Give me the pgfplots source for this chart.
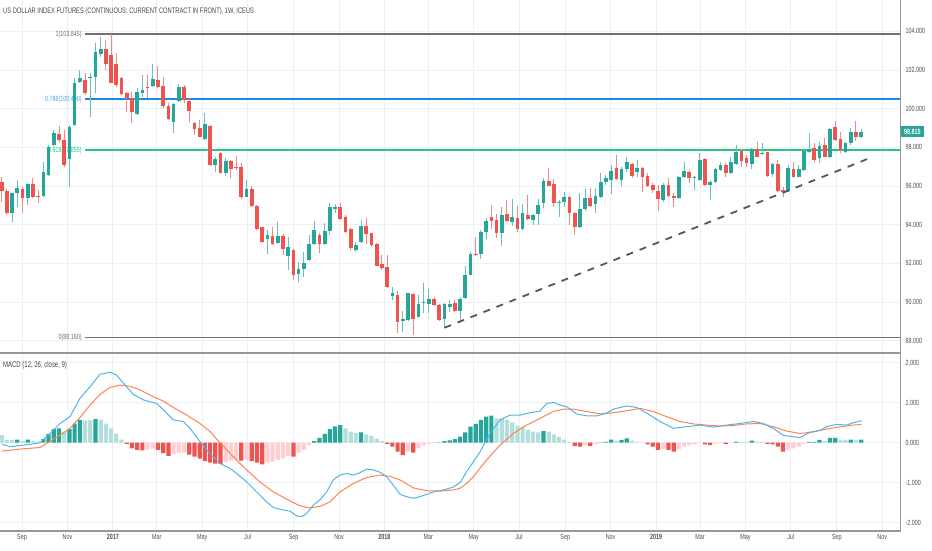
\documentclass[border=0pt]{standalone}
\usepackage{fontspec}
\setmainfont{Liberation Sans}[FakeStretch=0.72]
\usepackage{pgfplots}
\usepackage{pgfplotstable}
\pgfplotsset{compat=1.18}
\definecolor{candG}{RGB}{38,166,154}
\definecolor{candR}{RGB}{239,83,80}
\colorlet{wickG}{candG!70!white}
\colorlet{wickR}{candR!70!white}
\definecolor{histD}{RGB}{38,166,154}
\definecolor{histL}{RGB}{178,223,219}
\definecolor{histR}{RGB}{239,83,80}
\definecolor{histP}{RGB}{255,205,210}
\definecolor{macdc}{RGB}{80,180,230}
\definecolor{sigc}{RGB}{255,130,80}
\definecolor{gridc}{RGB}{236,240,245}
\definecolor{labc}{RGB}{75,78,88}
\definecolor{titc}{RGB}{70,72,80}
\definecolor{sepc}{RGB}{150,150,155}
\definecolor{fibgray}{RGB}{112,112,118}
\definecolor{fibblue}{RGB}{30,136,229}
\definecolor{fibgreen}{RGB}{40,196,130}
\definecolor{trendc}{RGB}{85,85,90}

\pgfplotstableread{
k O H L C
0 96.22 96.48 95.19 95.74
1 95.74 95.83 94.50 94.59
2 94.62 95.65 94.15 95.62
3 95.62 96.31 94.93 95.88
4 95.83 95.96 94.59 95.36
5 95.36 96.14 95.02 96.10
6 96.10 96.40 95.36 95.44
7 95.50 95.79 95.10 95.44
8 95.50 97.26 95.44 96.71
9 96.57 98.12 96.53 98.03
10 98.12 98.90 98.07 98.76
11 98.69 99.10 98.29 98.38
12 98.38 98.90 97.00 97.09
13 97.38 99.15 95.96 99.07
14 99.15 101.57 99.12 101.31
15 101.39 102.00 101.31 101.57
16 101.48 101.86 100.71 100.79
17 101.57 101.83 99.55 101.65
18 101.65 103.38 100.79 102.95
19 102.83 103.72 102.69 103.07
20 103.09 103.55 102.00 102.29
21 102.77 103.845 101.31 101.34
22 102.29 102.86 101.14 101.22
23 101.60 101.65 100.71 100.74
24 100.79 100.88 99.84 100.54
25 100.54 100.88 99.24 99.84
26 99.72 101.05 99.67 100.85
27 100.82 101.74 100.62 100.96
28 101.10 101.74 100.54 101.07
29 101.17 102.29 101.10 101.53
30 101.48 102.21 101.05 101.10
31 101.17 101.65 100.02 100.14
32 100.15 100.28 99.41 99.46
33 99.32 100.31 98.74 100.24
34 100.41 101.26 100.36 101.13
35 101.13 101.22 100.28 100.45
36 100.41 100.54 99.32 99.89
37 99.26 99.32 98.64 98.95
38 98.98 99.41 98.52 98.55
39 98.43 99.79 98.38 99.21
40 99.10 99.15 97.05 97.07
41 97.07 97.51 96.74 97.39
42 97.69 97.74 96.65 96.69
43 96.69 97.43 96.52 97.31
44 97.31 97.34 96.40 96.89
45 96.99 97.55 96.83 96.96
46 96.98 97.17 95.31 95.44
47 95.44 96.31 95.41 95.84
48 95.84 96.00 94.93 94.96
49 94.96 95.01 93.72 93.76
50 93.86 93.89 93.06 93.12
51 93.26 93.72 92.48 93.46
52 93.43 93.86 92.95 93.00
53 93.05 94.12 93.00 93.43
54 93.43 93.52 92.43 92.74
55 92.38 93.38 91.65 92.83
56 92.69 92.72 91.14 91.39
57 91.45 92.07 91.03 91.70
58 91.70 92.60 91.31 92.03
59 92.17 93.46 92.13 93.00
60 93.00 94.20 92.95 93.72
61 93.46 93.58 92.53 93.00
62 93.00 94.10 92.95 93.67
63 93.69 95.12 93.46 94.90
64 94.81 95.07 94.62 94.93
65 94.90 95.12 94.24 94.29
66 94.41 94.50 93.58 93.63
67 93.77 93.81 92.69 92.78
68 92.69 93.12 92.60 92.95
69 93.09 94.24 93.03 93.93
70 93.93 94.33 93.00 93.52
71 93.55 93.58 92.86 92.95
72 92.98 93.03 91.86 91.87
73 91.96 92.43 91.65 91.74
74 91.82 92.43 90.71 90.79
75 90.32 90.79 90.10 90.45
76 90.36 90.58 88.38 88.95
77 89.01 89.55 88.46 89.12
78 89.07 90.48 89.03 90.45
79 90.40 90.45 88.29 89.10
80 89.24 90.36 89.21 89.89
81 89.97 90.96 89.41 90.00
82 89.89 90.65 89.41 90.14
83 90.14 90.27 89.79 89.84
84 89.84 89.89 89.03 89.07
85 89.12 89.93 88.64 89.89
86 89.75 90.10 89.49 89.89
87 89.93 90.10 89.49 89.55
88 89.55 90.27 89.03 90.14
89 90.19 91.88 90.15 91.39
90 91.39 92.58 91.39 92.47
91 92.47 93.34 92.38 92.43
92 92.47 93.72 92.21 93.60
93 93.63 94.33 93.26 94.20
94 94.38 95.02 93.76 94.20
95 94.24 94.55 93.29 93.58
96 93.55 94.93 92.89 94.50
97 94.55 95.27 94.15 94.20
98 94.15 95.31 93.93 94.41
99 94.36 94.96 93.63 93.77
100 93.77 95.07 93.72 94.59
101 94.50 95.53 94.24 94.27
102 94.24 94.55 93.98 94.50
103 94.53 95.31 93.98 95.01
104 95.10 96.40 94.84 96.27
105 96.27 96.91 96.00 96.01
106 96.10 96.34 94.93 95.13
107 95.12 95.27 94.41 95.15
108 95.15 95.70 94.93 95.41
109 95.41 95.48 93.98 94.58
110 94.62 94.67 93.46 93.86
111 93.86 95.62 93.81 94.79
112 94.79 95.83 94.72 95.36
113 95.36 95.88 94.93 94.96
114 95.07 95.88 94.62 95.50
115 95.44 96.65 95.36 96.19
116 96.22 96.57 96.05 96.40
117 96.31 97.08 95.57 96.79
118 96.91 97.60 96.31 96.36
119 96.31 96.99 96.00 96.86
120 96.86 97.51 96.74 97.26
121 97.12 97.20 96.40 96.52
122 96.74 97.34 96.48 96.95
123 96.95 97.00 95.70 96.48
124 96.52 96.69 95.93 96.00
125 96.03 96.14 95.65 95.79
126 95.75 96.05 94.72 95.31
127 95.27 96.14 95.19 96.05
128 96.05 96.40 95.44 95.50
129 95.50 95.62 94.93 95.36
130 95.36 96.50 95.34 96.48
131 96.48 97.26 96.40 96.79
132 96.71 96.83 96.17 96.40
133 96.43 96.51 95.79 96.48
134 96.31 97.69 96.27 97.34
135 97.39 97.43 96.01 96.05
136 96.05 96.31 95.27 96.22
137 96.19 96.91 96.14 96.88
138 96.83 97.22 96.79 97.08
139 97.08 97.17 96.45 96.65
140 96.65 97.51 96.60 97.22
141 97.12 98.12 97.08 97.77
142 97.81 97.91 96.96 97.29
143 97.43 97.60 96.99 97.17
144 97.14 97.95 96.88 97.90
145 97.90 98.29 97.48 97.51
146 97.64 98.21 97.60 97.72
147 97.74 97.77 96.48 96.53
148 96.62 97.17 96.48 97.12
149 97.12 97.34 95.70 95.75
150 95.79 95.96 95.44 95.70
151 95.75 97.08 95.70 96.94
152 96.88 97.26 96.40 96.45
153 96.48 97.08 96.45 96.86
154 96.83 97.86 96.79 97.81
155 97.77 98.72 97.69 97.90
156 97.95 98.21 97.26 97.34
157 97.43 98.29 97.17 98.07
158 98.12 98.46 97.48 97.51
159 97.51 98.98 97.43 98.93
160 99.07 99.36 98.34 98.38
161 98.43 98.81 97.69 97.86
162 97.77 98.26 97.72 98.21
163 98.21 98.98 98.12 98.81
164 98.81 99.36 98.34 98.52
165 98.55 98.93 98.46 98.815
}\candles

\pgfplotstableread{
k v c
0 0.19 1
1 0.07 1
2 0.07 1
3 0.08 0
4 0.04 1
5 0.08 0
6 0.04 1
7 0.03 1
8 0.09 0
9 0.22 0
10 0.34 0
11 0.36 0
12 0.28 1
13 0.34 0
14 0.48 0
15 0.57 0
16 0.56 1
17 0.56 1
18 0.59 0
19 0.58 1
20 0.48 1
21 0.36 1
22 0.23 1
23 0.08 1
24 -0.03 2
25 -0.14 2
26 -0.18 2
27 -0.19 2
28 -0.17 3
29 -0.15 3
30 -0.18 2
31 -0.26 2
32 -0.33 2
33 -0.28 3
34 -0.26 3
35 -0.25 3
36 -0.30 2
37 -0.35 2
38 -0.40 2
39 -0.46 2
40 -0.50 2
41 -0.52 2
42 -0.53 2
43 -0.48 3
44 -0.45 3
45 -0.42 3
46 -0.45 2
47 -0.43 3
48 -0.46 2
49 -0.50 2
50 -0.54 2
51 -0.50 3
52 -0.47 3
53 -0.43 3
54 -0.39 3
55 -0.33 3
56 -0.35 2
57 -0.25 3
58 -0.18 3
59 -0.06 3
60 0.04 0
61 0.12 0
62 0.22 0
63 0.34 0
64 0.41 0
65 0.44 0
66 0.36 1
67 0.28 1
68 0.24 1
69 0.26 0
70 0.21 1
71 0.17 1
72 0.10 1
73 0.04 1
74 -0.03 2
75 -0.10 2
76 -0.22 2
77 -0.31 2
78 -0.22 3
79 -0.25 2
80 -0.14 3
81 -0.07 3
82 -0.02 3
83 0.005 0
84 0.01 0
85 0.04 0
86 0.06 0
87 0.09 0
88 0.15 0
89 0.26 0
90 0.40 0
91 0.47 0
92 0.57 0
93 0.65 0
94 0.68 0
95 0.61 1
96 0.61 1
97 0.57 1
98 0.51 1
99 0.42 1
100 0.40 1
101 0.32 1
102 0.28 1
103 0.26 1
104 0.29 0
105 0.28 1
106 0.21 1
107 0.15 1
108 0.08 1
109 0.02 1
110 -0.08 2
111 -0.10 2
112 -0.06 3
113 -0.08 2
114 -0.04 3
115 0.01 0
116 0.02 0
117 0.08 0
118 0.05 1
119 0.07 0
120 0.11 0
121 0.05 1
122 0.02 1
123 0.01 1
124 -0.04 2
125 -0.10 2
126 -0.18 2
127 -0.16 3
128 -0.18 2
129 -0.22 2
130 -0.16 3
131 -0.10 3
132 -0.06 3
133 -0.04 3
134 -0.01 3
135 -0.04 2
136 -0.06 2
137 -0.02 3
138 -0.01 3
139 -0.03 2
140 -0.01 3
141 0.03 0
142 0.02 1
143 0.02 1
144 0.05 0
145 0.03 1
146 0.03 1
147 -0.03 2
148 -0.04 2
149 -0.10 2
150 -0.22 2
151 -0.17 3
152 -0.14 3
153 -0.10 3
154 -0.03 3
155 0.02 0
156 0.02 0
157 0.07 0
158 0.04 1
159 0.12 0
160 0.12 0
161 0.08 1
162 0.07 1
163 0.08 0
164 0.08 1
165 0.08 0
}\hist

\pgfplotsset{
  panel/.style={scale only axis, width=900pt, xmin=-0.33, xmax=172.45,
    axis line style={draw=none}, major tick length=0pt,
    grid=major, major grid style={draw=gridc, line width=0.8pt},
    xtick={3.90,12.62,21.33,29.76,38.47,47.19,56.04,64.76,73.47,81.90,90.62,99.33,108.19,116.90,125.62,134.04,142.76,151.47,160.33,169.04},
    yticklabel pos=right,
    tick label style={font=\fontsize{7.5}{8}\selectfont, text=labc},
    scaled y ticks=false,
    yticklabel style={xshift=2pt, /pgf/number format/fixed, /pgf/number format/fixed zerofill, /pgf/number format/precision=3, /pgf/number format/assume math mode=true},
  },
  wick/.style={draw=none, mark=none, /pgfplots/error bars/y dir=minus, /pgfplots/error bars/y explicit, /pgfplots/error bars/error mark=none,
    /pgfplots/error bars/error bar style={line width=1pt, draw=#1}},
  body/.style={draw=none, mark=none, /pgfplots/error bars/y dir=minus, /pgfplots/error bars/y explicit, /pgfplots/error bars/error mark=none,
    /pgfplots/error bars/error bar style={line width=3.7pt, draw=#1}},
}

\begin{document}
\begin{tikzpicture}[x=1pt,y=1pt]
\useasboundingbox (0,0) rectangle (932,550);

\begin{axis}[panel, at={(0pt,198pt)}, anchor=south west, height=352pt,
  ymin=87.41, ymax=105.62, ytick={88,90,...,104}, xticklabels={}]
% Fibonacci labels and levels
\node[anchor=east, font=\fontsize{7.5}{8}\selectfont, text=fibgray, inner sep=1pt] at (axis cs:15.6,103.845) {1(103.845)};
\node[anchor=east, font=\fontsize{7.5}{8}\selectfont, text=fibblue!80!white, inner sep=1pt] at (axis cs:15.6,100.49) {0.786(100.490)};
\node[anchor=east, font=\fontsize{7.5}{8}\selectfont, text=fibgreen, inner sep=1pt] at (axis cs:15.6,97.855) {0.618(97.855)};
\node[anchor=east, font=\fontsize{7.5}{8}\selectfont, text=fibgray, inner sep=1pt] at (axis cs:15.6,88.16) {0(88.160)};
\addplot[fibgray, line width=1.8pt] coordinates {(16,103.845) (172.45,103.845)};
\addplot[fibblue, line width=1.8pt] coordinates {(16,100.49) (172.45,100.49)};
\addplot[fibgreen, line width=1.8pt] coordinates {(16,97.855) (172.45,97.855)};
\addplot[fibgray, line width=1.8pt] coordinates {(16,88.16) (172.45,88.16)};
% wicks
\addplot[restrict expr to domain={\thisrow{C}-\thisrow{O}}{0:100}, wick=wickG]
  table[x=k, y=H, y error minus expr=\thisrow{H}-\thisrow{L}] {\candles};
\addplot[restrict expr to domain={\thisrow{C}-\thisrow{O}}{-100:0}, wick=wickR]
  table[x=k, y=H, y error minus expr=\thisrow{H}-\thisrow{L}] {\candles};
% bodies
\addplot[restrict expr to domain={\thisrow{C}-\thisrow{O}}{0:100}, body=candG]
  table[x=k, y=C, y error minus expr=\thisrow{C}-\thisrow{O}] {\candles};
\addplot[restrict expr to domain={\thisrow{C}-\thisrow{O}}{-100:0}, body=candR]
  table[x=k, y=O, y error minus expr=\thisrow{O}-\thisrow{C}] {\candles};
% trend line
\addplot[trendc, line width=1.8pt, dash pattern=on 7pt off 7pt] coordinates {(85,88.667) (167.3,97.513)};
\end{axis}

\begin{axis}[panel, at={(0pt,19pt)}, anchor=south west, height=177pt,
  ymin=-2.2075, ymax=2.2175, ytick={-2,-1,0,1,2},
  xticklabels={Sep,Nov,\textbf{2017},Mar,May,Jul,Sep,Nov,\textbf{2018},Mar,May,Jul,Sep,Nov,\textbf{2019},Mar,May,Jul,Sep,Nov}]
\addplot[ybar, bar width=4.2pt, bar shift=0pt, fill=histD, draw=none, restrict expr to domain={\thisrow{c}}{-0.5:0.5}] table[x=k,y=v] {\hist};
\addplot[ybar, bar width=4.2pt, bar shift=0pt, fill=histL, draw=none, restrict expr to domain={\thisrow{c}}{0.5:1.5}] table[x=k,y=v] {\hist};
\addplot[ybar, bar width=4.2pt, bar shift=0pt, fill=histR, draw=none, restrict expr to domain={\thisrow{c}}{1.5:2.5}] table[x=k,y=v] {\hist};
\addplot[ybar, bar width=4.2pt, bar shift=0pt, fill=histP, draw=none, restrict expr to domain={\thisrow{c}}{2.5:3.5}] table[x=k,y=v] {\hist};
% signal line
\addplot[sigc, line width=1pt, mark=none] coordinates {
(0,-0.21) (3.51,-0.16) (7.35,-0.12) (9.27,0.03) (11.19,0.19) (13.11,0.36) (15.03,0.63) (16.95,0.94) (18.87,1.21) (20.79,1.38) (22.71,1.44) (24.63,1.41) (26.55,1.32) (29.11,1.15) (31.03,1.04) (32.95,0.88) (35.5,0.69) (38.06,0.48) (39.98,0.28) (41.9,0.0) (44.46,-0.35) (47.02,-0.68) (49.58,-0.98) (52.14,-1.23) (54.7,-1.41) (57.26,-1.58) (59.18,-1.63) (61.1,-1.59) (63.02,-1.48) (64.94,-1.23) (67.5,-1.02) (70.06,-0.87) (72.62,-0.81) (74.54,-0.84) (76.46,-0.93) (79.02,-1.13) (81.58,-1.20) (84.14,-1.21) (86.7,-1.18) (88.0,-1.14) (89.26,-1.02) (90.54,-0.85) (93.10,-0.43) (95.66,-0.06) (98.22,0.23) (100.78,0.44) (103.34,0.61) (105.9,0.78) (107.82,0.84) (109.74,0.84) (112.3,0.78) (114.86,0.72) (117.42,0.75) (119.98,0.80) (122.54,0.86) (125.1,0.78) (127.65,0.65) (130.21,0.53) (132.77,0.47) (135.33,0.44) (137.89,0.42) (140.45,0.43) (143.01,0.47) (145.57,0.48) (148.13,0.40) (150.69,0.29) (153.25,0.23) (155.81,0.27) (158.37,0.34) (160.93,0.40) (163.49,0.44) (165.09,0.46)};
% MACD line
\addplot[macdc, line width=1pt, mark=none] coordinates {
(0,-0.03) (1.59,-0.10) (3.51,-0.07) (5.43,-0.04) (7.35,0.0) (9.27,0.23) (11.19,0.48) (13.11,0.65) (15.03,1.11) (16.95,1.40) (18.87,1.71) (20.79,1.76) (22.07,1.69) (23.35,1.49) (25.27,1.21) (27.19,1.07) (29.75,0.98) (31.03,0.82) (32.95,0.57) (34.87,0.53) (36.14,0.36) (38.06,0.03) (39.98,-0.27) (41.9,-0.52) (43.82,-0.64) (45.1,-0.77) (47.02,-0.98) (48.94,-1.23) (50.86,-1.48) (52.14,-1.62) (54.06,-1.68) (55.34,-1.71) (56.62,-1.83) (57.58,-1.85) (58.54,-1.77) (59.82,-1.56) (61.1,-1.43) (62.38,-1.23) (63.66,-0.93) (64.94,-0.81) (66.22,-0.77) (67.5,-0.81) (68.78,-0.75) (70.06,-0.66) (71.34,-0.68) (72.62,-0.74) (73.9,-0.85) (75.18,-1.06) (76.46,-1.29) (77.74,-1.35) (79.02,-1.39) (80.3,-1.35) (81.58,-1.29) (82.86,-1.23) (84.78,-1.18) (86.7,-1.11) (88.1,-0.98) (89.26,-0.72) (89.9,-0.60) (91.82,-0.23) (93.74,0.23) (95.66,0.57) (97.58,0.69) (99.5,0.69) (101.42,0.75) (103.34,0.79) (104.62,0.98) (105.9,1.01) (107.18,0.94) (108.46,0.90) (110.38,0.72) (112.3,0.67) (114.22,0.67) (116.14,0.74) (117.42,0.84) (119.34,0.90) (119.98,0.92) (121.9,0.88) (123.82,0.74) (126.38,0.53) (128.94,0.36) (131.5,0.40) (134.05,0.44) (136.61,0.39) (139.17,0.44) (141.73,0.48) (144.29,0.53) (146.21,0.48) (148.13,0.36) (150.05,0.18) (151.97,0.15) (153.25,0.13) (155.17,0.26) (157.09,0.31) (158.37,0.40) (160.29,0.46) (162.21,0.44) (163.49,0.50) (165.09,0.55)};
\end{axis}

% panel separators and right scale border
\draw[sepc, line width=2.2pt] (0,196.8) -- (900,196.8);
\draw[sepc, line width=1.6pt] (0,19) -- (900,19);
\draw[sepc, line width=1pt] (900,18.2) -- (900,550);

% titles
\node[anchor=west, font=\fontsize{8}{9}\selectfont, text=titc, inner sep=0pt] at (3,539) {US DOLLAR INDEX FUTURES (CONTINUOUS: CURRENT CONTRACT IN FRONT), 1W, ICEUS};
\node[anchor=west, font=\fontsize{8.3}{9}\selectfont, text=titc, inner sep=0pt] at (3,185) {MACD (12, 26, close, 9)};
% last price box
\node[anchor=west, fill=candG, text=white, font=\bfseries\fontsize{7.5}{8}\selectfont, inner xsep=3pt, inner ysep=1.5pt, minimum height=11pt] at (901,418.5) {98.815};
\end{tikzpicture}
\end{document}
